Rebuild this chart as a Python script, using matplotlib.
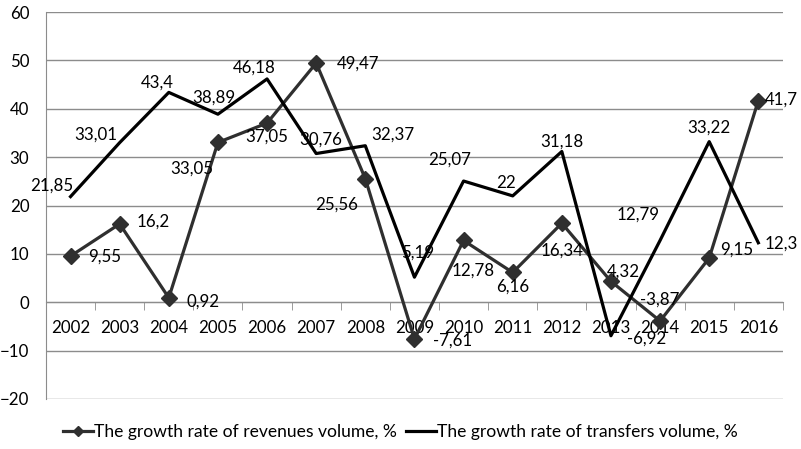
import matplotlib
matplotlib.use("Agg")
import matplotlib.pyplot as plt
import numpy as np

years = ["2002", "2003", "2004", "2005", "2006", "2007", "2008", "2009",
         "2010", "2011", "2012", "2013", "2014", "2015", "2016"]
revenues = [9.55, 16.2, 0.92, 33.05, 37.05, 49.47, 25.56, -7.61,
            12.78, 6.16, 16.34, 4.32, -3.87, 9.15, 41.7]
transfers = [21.85, 33.01, 43.4, 38.89, 46.18, 30.76, 32.37, 5.19,
             25.07, 22, 31.18, -6.92, 12.79, 33.22, 12.3]

# label offsets in pixels (dx, dy) from each point
rev_off = [(34, -1), (34, 2), (34, -4), (-26, -26), (0, -14), (42, -1), (-29, -26), (38, -2),
           (10, -30), (0, -14), (0, -27), (12, 10), (0, 21), (27, 8), (23, 1)]
tr_off = [(-19, 11), (-24, 8), (-12, 10), (-4, 17), (-13, 11), (5, 14), (28, 11), (3, 25),
          (-14, 21), (-7, 13), (0, 10), (36, -3), (-22, 26), (0, 14), (23, -1)]

def fmt(v):
    return ("%g" % v).replace(".", ",")

plt.rcParams['font.family'] = ['Lato', 'DejaVu Sans']
plt.rcParams['font.size'] = 12.2

fig = plt.figure(figsize=(8.01, 4.49), dpi=100)
ax = fig.add_axes([0.0574, 0.1114, 0.92, 0.8616])

x = np.arange(len(years))
ax.plot(x, revenues, color='#2f2f2f', lw=2.3, marker='D', ms=8, zorder=3,
        label="The growth rate of revenues volume, %")
ax.plot(x, transfers, color='black', lw=2.3, zorder=3,
        label="The growth rate of transfers volume, %")

for xi, v, (dx, dy) in zip(x, revenues, rev_off):
    ax.annotate(fmt(v), (xi, v), xytext=(dx, dy), textcoords='offset pixels',
                ha='center', va='center', color='black', zorder=4)
for xi, v, (dx, dy) in zip(x, transfers, tr_off):
    ax.annotate(fmt(v), (xi, v), xytext=(dx, dy), textcoords='offset pixels',
                ha='center', va='center', color='black', zorder=4)

ax.set_xlim(-0.5, len(years) - 0.5)
ax.set_ylim(-20, 60)
ax.set_yticks(range(-20, 61, 10))
ax.yaxis.grid(True, color='#8c8c8c', lw=1)
ax.set_axisbelow(True)
ax.tick_params(axis='y', length=0, pad=12)

for s in ['top', 'right']:
    ax.spines[s].set_visible(False)
ax.spines['left'].set_color('#8c8c8c')
ax.spines['bottom'].set_position(('data', 0))
ax.spines['bottom'].set_color('#8c8c8c')

ax.set_xticks(x)
ax.set_xticklabels(years)
ax.set_xticks(np.arange(-0.5, len(years), 1), minor=True)
ax.tick_params(axis='x', which='major', length=0, pad=13)
ax.tick_params(axis='x', which='minor', length=6, direction='out', color='#8c8c8c')

fig.legend(loc='lower center', bbox_to_anchor=(0.5, -0.015), ncol=2, frameon=False,
           fontsize=12.6, handlelength=1.7, columnspacing=0.5, handletextpad=0.1,
           markerscale=0.7)

fig.savefig("out.png", dpi=100)
